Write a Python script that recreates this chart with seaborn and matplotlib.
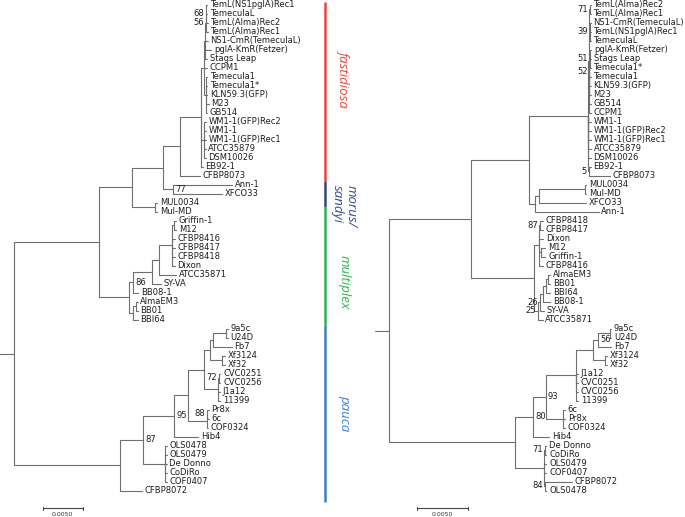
import matplotlib
matplotlib.use("Agg")
import matplotlib.pyplot as plt
from matplotlib.transforms import offset_copy
import pandas as pd
import seaborn as sns


def tip(name, depth):
    return {"name": name, "depth": depth}


def clade(depth, *kids, bs=None, side="left"):
    # depth = distance from the root (substitutions/site), bs = bootstrap value
    return {"depth": depth, "kids": list(kids), "bs": bs, "side": side}


# ---------------- left tree ----------------
LEFT_TEMECULA = clade(0.02365,
    clade(0.02384,
        clade(0.02392,
              clade(0.02398, tip("TemL(NS1pglA)Rec1", 0.02409), tip("TemeculaL", 0.02409),
                    tip("TemL(Alma)Rec2", 0.02415), bs=68),
              tip("TemL(Alma)Rec1", 0.02415), bs=56),
        tip("NS1-CmR(TemeculaL)", 0.02415),
        tip("pglA-KmR(Fetzer)", 0.02459),
        tip("Stags Leap", 0.02409)),
    tip("CCPM1", 0.02403),
    clade(0.02390, tip("Temecula1", 0.02409), tip("Temecula1*", 0.02409), tip("KLN59.3(GFP)", 0.02409),
          tip("M23", 0.02428), tip("GB514", 0.02409)))

LEFT_WM = clade(0.02365, tip("WM1-1(GFP)Rec2", 0.02390), tip("WM1-1", 0.02390), tip("WM1-1(GFP)Rec1", 0.02390),
                tip("ATCC35879", 0.02390), tip("DSM10026", 0.02390))

LEFT_FASTIDIOSA = clade(0.02065,
    clade(0.02328, LEFT_TEMECULA, LEFT_WM, tip("EB92-1", 0.02353)),
    tip("CFBP8073", 0.02321))

LEFT_SANDYI = clade(0.01988, tip("Ann-1", 0.02718), tip("XFCO33", 0.02593), bs=77, side="right")
LEFT_MORUS = clade(0.01759, tip("MUL0034", 0.01784), tip("Mul-MD", 0.01784))

LEFT_MULTIPLEX = clade(0.01438,
    clade(0.01488,
        clade(0.01718,
            clade(0.01813,
                clade(0.01971,
                      clade(0.01996, tip("Griffin-1", 0.02021), tip("M12", 0.02021)),
                      tip("CFBP8416", 0.02003), tip("CFBP8417", 0.02003), tip("CFBP8418", 0.02003),
                      tip("Dixon", 0.02003)),
                tip("ATCC35871", 0.02021)),
            tip("SY-VA", 0.01834)),
        tip("BB08-1", 0.01546), bs=86, side="right"),
    clade(0.01488, clade(0.01518, tip("AlmaEM3", 0.01540), tip("BB01", 0.01540)), tip("BBI64", 0.01540)))

LEFT_PAUCA = clade(0.01321,
    clade(0.01613,
        clade(0.01996,
            clade(0.02168,
                clade(0.02375,
                    clade(0.02443,
                        clade(0.02488, clade(0.02646, tip("9a5c", 0.02665), tip("U24D", 0.02665)),
                              tip("Fb7", 0.02718)),
                        clade(0.02600, tip("Xf3124", 0.02628), tip("Xf32", 0.02628))),
                    clade(0.02550,
                          clade(0.02559, tip("CVC0251", 0.02575), tip("CVC0256", 0.02575), bs=72),
                          tip("J1a12", 0.02571), tip("11399", 0.02571))),
                clade(0.02405, clade(0.02413, tip("Pr8x", 0.02428), tip("6c", 0.02428), bs=88),
                      tip("COF0324", 0.02421))),
            tip("Hib4", 0.02300), bs=95, side="right"),
        clade(0.01884, tip("OLS0478", 0.01903), tip("OLS0479", 0.01903), tip("De Donno", 0.01903),
              tip("CoDiRo", 0.01903), tip("COF0407", 0.01903)),
        bs=87, side="right"),
    tip("CFBP8072", 0.01593))

LEFT_TREE = clade(0.0,
    clade(0.01063,
          clade(0.01475, clade(0.01863, LEFT_FASTIDIOSA, LEFT_SANDYI), LEFT_MORUS),
          LEFT_MULTIPLEX),
    LEFT_PAUCA)

# ---------------- right tree ----------------
RIGHT_TEMECULA = clade(0.01957,
    clade(0.01966, tip("TemL(Alma)Rec2", 0.01975), tip("TemL(Alma)Rec1", 0.01975), bs=71),
    clade(0.01966, tip("NS1-CmR(TemeculaL)", 0.01975), tip("TemL(NS1pglA)Rec1", 0.01975),
          tip("TemeculaL", 0.01975), bs=39),
    clade(0.01961,
          clade(0.01966, tip("pglA-KmR(Fetzer)", 0.01979), tip("Stags Leap", 0.01975),
                tip("Temecula1*", 0.01975), bs=51),
          tip("Temecula1", 0.01975), tip("KLN59.3(GFP)", 0.01975), bs=52),
    tip("M23", 0.01975), tip("GB514", 0.01975), tip("CCPM1", 0.01975))

RIGHT_FASTIDIOSA = clade(0.01951, RIGHT_TEMECULA,
    tip("WM1-1", 0.01975), tip("WM1-1(GFP)Rec2", 0.01975), tip("WM1-1(GFP)Rec1", 0.01975),
    tip("ATCC35879", 0.01975), tip("DSM10026", 0.01975),
    clade(0.01956, tip("EB92-1", 0.01975), tip("CFBP8073", 0.02164), bs=5))

RIGHT_MORUS_SANDYI = clade(0.01428,
    clade(0.01471, clade(0.01918, tip("MUL0034", 0.01928), tip("Mul-MD", 0.01928)), tip("XFCO33", 0.01931)),
    tip("Ann-1", 0.02051))

RIGHT_MULTIPLEX = clade(0.01422,
    clade(0.01464,
          clade(0.01481, tip("CFBP8418", 0.01507), tip("CFBP8417", 0.01507), bs=87),
          tip("Dixon", 0.01507),
          clade(0.01492, tip("M12", 0.01526), tip("Griffin-1", 0.01531)),
          tip("CFBP8416", 0.01502)),
    clade(0.01453,
          clade(0.01473,
                clade(0.01507,
                      clade(0.01536, clade(0.01556, tip("AlmaEM3", 0.01575), tip("BB01", 0.01575)),
                            tip("BBI64", 0.01575)),
                      tip("BB08-1", 0.01575)),
                tip("SY-VA", 0.01517), bs=26),
          tip("ATCC35871", 0.01502), bs=25))

RIGHT_PAUCA = clade(0.01232,
    clade(0.01406,
        clade(0.01533,
            clade(0.01833,
                clade(0.01997,
                      clade(0.02049, clade(0.02159, tip("9a5c", 0.02174), tip("U24D", 0.02174)),
                            tip("Fb7", 0.02178), bs=56, side="right"),
                      clade(0.02115, tip("Xf3124", 0.02134), tip("Xf32", 0.02134))),
                tip("J1a12", 0.01850), tip("CVC0251", 0.01850), tip("CVC0256", 0.01850), tip("11399", 0.01850)),
            clade(0.01706, tip("6c", 0.01723), tip("Pr8x", 0.01723), tip("COF0324", 0.01723)),
            bs=93, side="right"),
        tip("Hib4", 0.01570), bs=80, side="right"),
    clade(0.01514,
          clade(0.01526, tip("De Donno", 0.01541), tip("CoDiRo", 0.01541), bs=71),
          tip("OLS0479", 0.01541), tip("COF0407", 0.01541),
          clade(0.01526, tip("CFBP8072", 0.01788), tip("OLS0478", 0.01541), bs=84)))

RIGHT_TREE = clade(0.0,
    clade(0.00801, clade(0.01373, RIGHT_FASTIDIOSA, RIGHT_MORUS_SANDYI), RIGHT_MULTIPLEX),
    RIGHT_PAUCA)

# clade bar between the trees (edges in leaf rows of the left tree)
CLADE_NAMES = ["fastidiosa", "morus/\nsandyi", "multiplex", "pauca"]
CLADE_COLORS = ["#e8443a", "#34497a", "#2fb34f", "#3d7ec6"]
CLADE_TEXT_COLORS = ["#e8453c", "#2f4a8c", "#2db34a", "#3a82d2"]
CLADE_EDGES = [-0.3, 19.6, 22.5, 35.6, 55.3]
CLADE_LABEL_ROWS = [8.2, 20.1, 30.8, 45.4]

SCALE_LEN = 0.005
SCALE_LABEL = "0.0050"

# ---------------- layout ----------------
W, H = 685, 517
ROW0, ROW_PX = 4.5, 9.0          # pixel of first leaf row, row spacing
LINE = "#6f6f6f"

sns.set_theme(style="white")
plt.rcParams["font.family"] = ["DejaVu Sans"]

fig = plt.figure(figsize=(W / 100, H / 100), dpi=100)
ylim = ((H - ROW0) / ROW_PX, -ROW0 / ROW_PX)


def make_axes(x0, x1, root_px, px_per_unit):
    ax = fig.add_axes([x0 / W, 0, (x1 - x0) / W, 1])
    ax.set_xlim((x0 - root_px) / px_per_unit, (x1 - root_px) / px_per_unit)
    ax.set_ylim(*ylim)
    ax.set_axis_off()
    return ax


def layout(node, rows, edges, boots):
    if "name" in node:
        node["y"] = len(rows)
        rows.append(node)
        return
    for kid in node["kids"]:
        layout(kid, rows, edges, boots)
    node["y"] = (node["kids"][0]["y"] + node["kids"][-1]["y"]) / 2
    for kid in node["kids"]:
        e = len(edges)
        edges += [(e, node["depth"], node["y"]), (e, node["depth"], kid["y"]), (e, kid["depth"], kid["y"])]
    if node["bs"] is not None:
        boots.append(node)


def draw_tree(ax, tree, stub, bar_start):
    rows, edges, boots = [], [], []
    layout(tree, rows, edges, boots)
    e = len(edges)
    edges += [(e, -stub, tree["y"]), (e, 0.0, tree["y"])]
    df = pd.DataFrame(edges, columns=["edge", "dist", "row"])
    xl = ax.get_xlim()
    sns.lineplot(data=df, x="dist", y="row", units="edge", estimator=None, sort=False,
                 color=LINE, linewidth=0.8, ax=ax)
    ax.set_xlim(xl)
    name_tf = offset_copy(ax.transData, fig=fig, x=2.0, units="points")
    for leaf in rows:
        ax.text(leaf["depth"], leaf["y"], leaf["name"], transform=name_tf,
                ha="left", va="center", fontsize=6, color="#1e1e1e")
    left_tf = offset_copy(ax.transData, fig=fig, x=-1.3, units="points")
    right_tf = offset_copy(ax.transData, fig=fig, x=1.6, units="points")
    for nd in boots:
        right = nd["side"] == "right"
        ax.text(nd["depth"], nd["y"], str(nd["bs"]), transform=right_tf if right else left_tf,
                ha="left" if right else "right", va="center", fontsize=6, color="#1e1e1e")
    # scale bar
    yb = 55.98
    x1 = bar_start + SCALE_LEN
    ax.plot([bar_start, x1], [yb, yb], color="#444444", lw=0.8)
    for xb in (bar_start, x1):
        ax.plot([xb, xb], [yb - 0.2, yb + 0.2], color="#444444", lw=0.8)
    ax.text((bar_start + x1) / 2, yb + 0.45, SCALE_LABEL, ha="center", va="top", fontsize=4.5, color="#333333")


ax_l = make_axes(0, 300, 14.3, 40 / SCALE_LEN)
draw_tree(ax_l, LEFT_TREE, 14.3 / (40 / SCALE_LEN), 0.00355)
ax_l.set_ylim(*ylim)

ax_r = make_axes(360, 685, 389.3, 51 / SCALE_LEN)
draw_tree(ax_r, RIGHT_TREE, 14.3 / (51 / SCALE_LEN), 0.002745)
ax_r.set_ylim(*ylim)

# clade bar
ax_m = fig.add_axes([310 / W, 0, 70 / W, 1])
ax_m.set_xlim(0, 1)
ax_m.set_ylim(*ylim)
ax_m.set_axis_off()
bar_x = 0.22
for i, name in enumerate(CLADE_NAMES):
    ax_m.plot([bar_x, bar_x], [CLADE_EDGES[i], CLADE_EDGES[i + 1]], color=CLADE_COLORS[i],
              lw=1.8, solid_capstyle="butt")
    if "\n" in name:
        ax_m.text(0.49, CLADE_LABEL_ROWS[i], name, rotation=-90, rotation_mode="anchor",
                  ha="left", va="center", multialignment="left", linespacing=1.1,
                  fontsize=9.5, style="italic", family="Open Sans", color=CLADE_TEXT_COLORS[i])
    else:
        ax_m.text(0.49, CLADE_LABEL_ROWS[i], name, rotation=-90, rotation_mode="anchor",
                  ha="center", va="center", fontsize=9.5, style="italic", family="Open Sans",
                  color=CLADE_TEXT_COLORS[i])

fig.savefig("out.png", dpi=100)
